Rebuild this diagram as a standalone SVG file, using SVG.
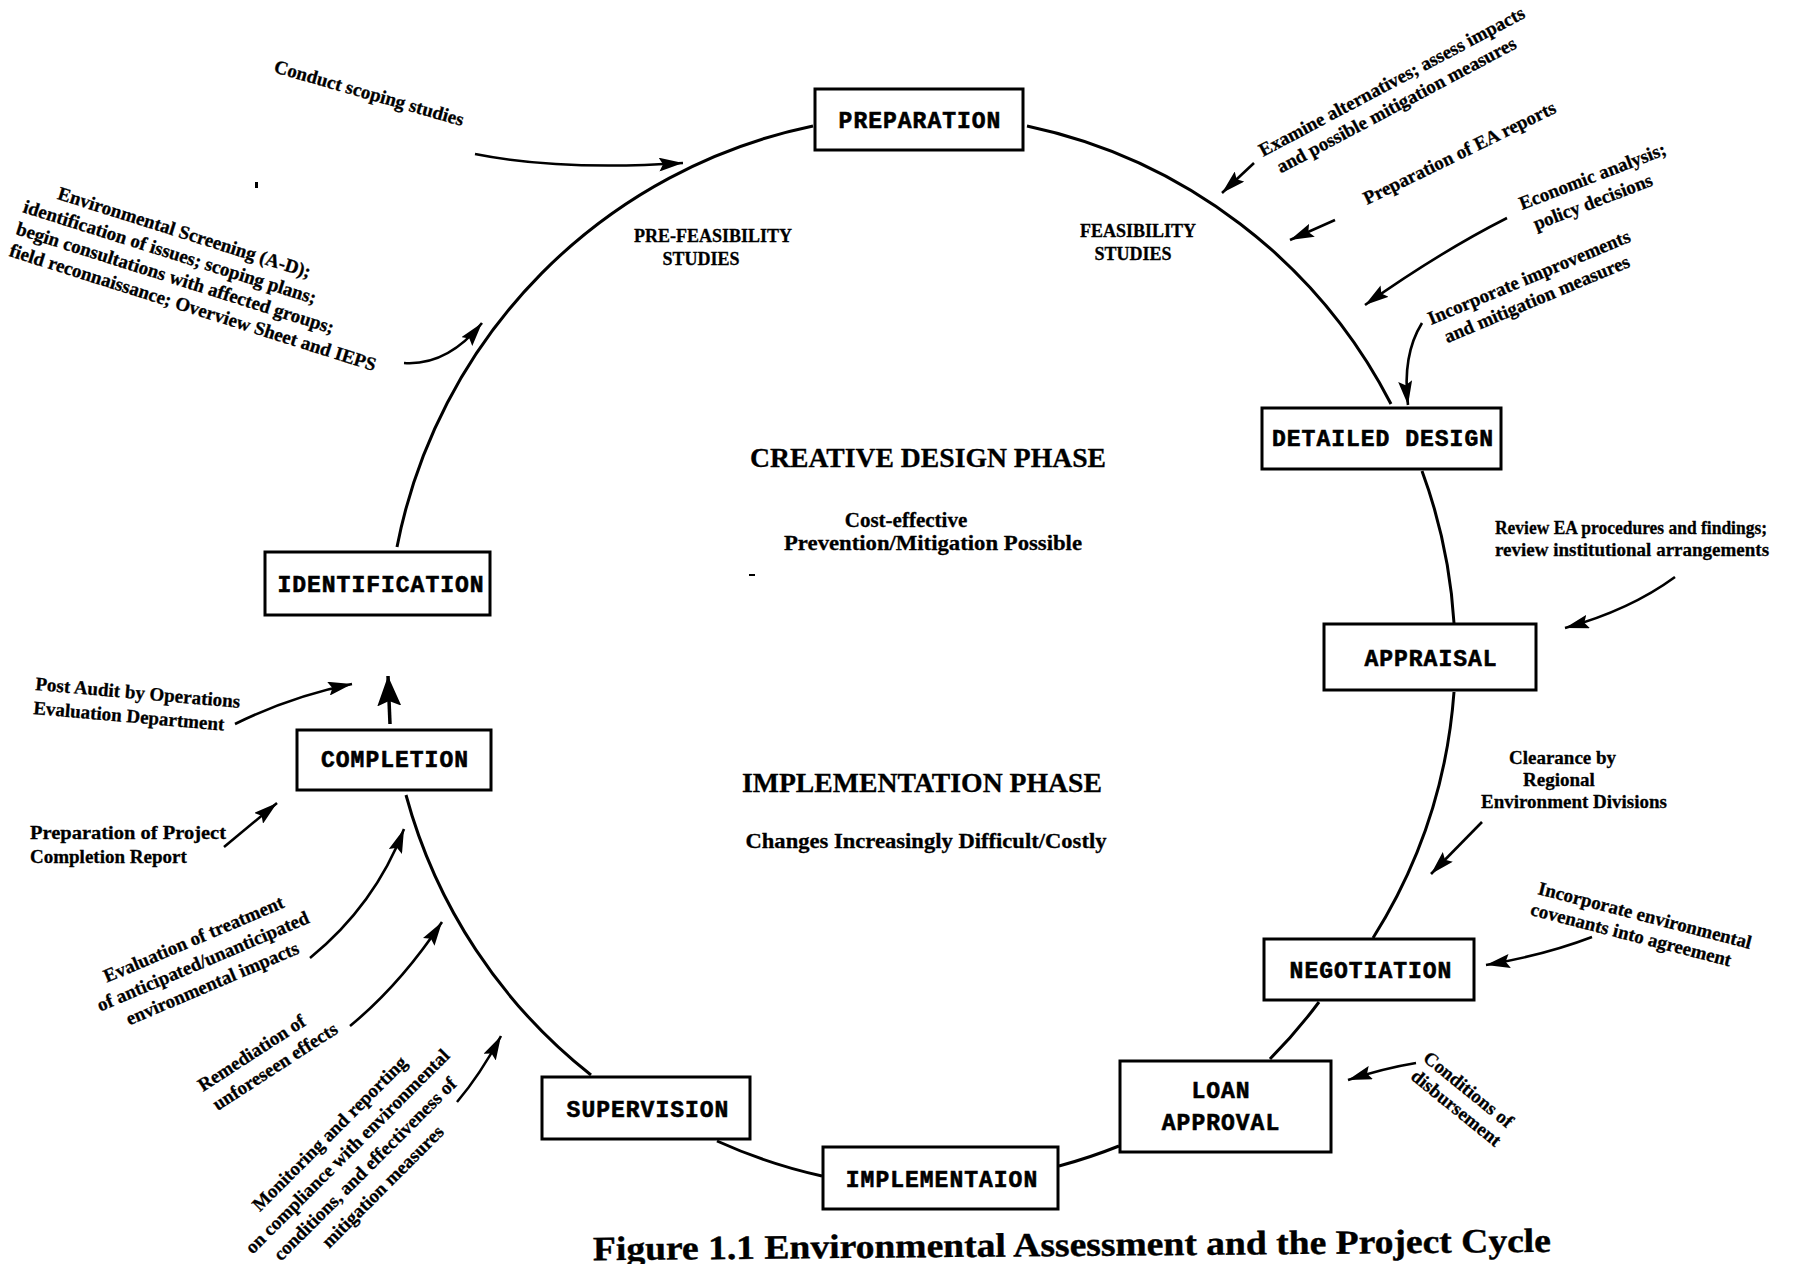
<svg xmlns="http://www.w3.org/2000/svg" width="1817" height="1264" viewBox="0 0 1817 1264">
<defs>
<style>
.bg{fill:#fff}
.box{fill:#fff;stroke:#000;stroke-width:3}
.nl{font-family:"Liberation Mono","Courier New",monospace;font-weight:bold;font-size:23px;letter-spacing:1px;text-anchor:middle;fill:#000;stroke:#000;stroke-width:0.6}
.an{font-family:"Liberation Serif","Times New Roman",serif;font-weight:bold;font-size:19px;fill:#000;stroke:#000;stroke-width:0.3}
.ph{font-family:"Liberation Serif","Times New Roman",serif;font-weight:bold;font-size:27.5px;fill:#000;stroke:#000;stroke-width:0.3}
.sub{font-family:"Liberation Serif","Times New Roman",serif;font-weight:bold;font-size:21px;fill:#000;stroke:#000;stroke-width:0.3}
.st{font-family:"Liberation Serif","Times New Roman",serif;font-weight:bold;font-size:18px;fill:#000;stroke:#000;stroke-width:0.3}
.arc{fill:none;stroke:#000;stroke-width:3}
.ar{fill:none;stroke:#000;stroke-width:2.6;marker-end:url(#ah)}
</style>
<marker id="ah" markerWidth="26" markerHeight="14" refX="24" refY="7" orient="auto" markerUnits="userSpaceOnUse"><path d="M0,0 L24,7 L0,14 L4,7 Z" fill="#000"/></marker>
<marker id="ahb" markerWidth="32" markerHeight="24" refX="30" refY="12" orient="auto" markerUnits="userSpaceOnUse"><path d="M0,0 L30,12 L0,24 L5,12 Z" fill="#000"/></marker>
</defs>
<rect class="bg" x="0" y="0" width="1817" height="1264"/>

<g id="cycle-connectors">
<path class="arc" d="M 397 547 A 534 534 0 0 1 813 126"/>
<path class="arc" d="M 1027 126 A 534 534 0 0 1 1391 404"/>
<path class="arc" d="M 1422 471 A 534 534 0 0 1 1454 623"/>
<path class="arc" d="M 1454 692 A 534 534 0 0 1 1373 938"/>
<path class="arc" d="M 1319 1002 A 534 534 0 0 1 1270 1059"/>
<path class="arc" d="M 1119 1146 A 534 534 0 0 1 1059 1166"/>
<path class="arc" d="M 822 1176 A 534 534 0 0 1 717 1141"/>
<path class="arc" d="M 591 1075 A 534 534 0 0 1 406 795"/>
</g>

<g id="nodes">
<g id="node-preparation"><rect class="box" x="815" y="89" width="208" height="61"/><text class="nl" x="920" y="128">PREPARATION</text></g>
<g id="node-detailed-design"><rect class="box" x="1262" y="408" width="239" height="61"/><text class="nl" x="1383" y="446">DETAILED DESIGN</text></g>
<g id="node-appraisal"><rect class="box" x="1324" y="624" width="212" height="66"/><text class="nl" x="1431" y="666">APPRAISAL</text></g>
<g id="node-negotiation"><rect class="box" x="1264" y="939" width="210" height="61"/><text class="nl" x="1371" y="978">NEGOTIATION</text></g>
<g id="node-loan-approval"><rect class="box" x="1120" y="1061" width="211" height="91"/><text class="nl" x="1221" y="1098">LOAN</text><text class="nl" x="1221" y="1130">APPROVAL</text></g>
<g id="node-implementation"><rect class="box" x="823" y="1147" width="235" height="62"/><text class="nl" x="942" y="1187">IMPLEMENTAION</text></g>
<g id="node-supervision"><rect class="box" x="542" y="1077" width="208" height="62"/><text class="nl" x="648" y="1117">SUPERVISION</text></g>
<g id="node-completion"><rect class="box" x="297" y="730" width="194" height="60"/><text class="nl" x="395" y="767">COMPLETION</text></g>
<g id="node-identification"><rect class="box" x="265" y="552" width="225" height="63"/><text class="nl" x="381" y="592">IDENTIFICATION</text></g>
</g>

<g id="phase-labels">
<text class="st" x="713" y="242" text-anchor="middle">PRE-FEASIBILITY</text>
<text class="st" x="701" y="265" text-anchor="middle">STUDIES</text>
<text class="st" x="1138" y="237" text-anchor="middle">FEASIBILITY</text>
<text class="st" x="1133" y="260" text-anchor="middle">STUDIES</text>
<text class="ph" x="928" y="467" text-anchor="middle" textLength="356" lengthAdjust="spacingAndGlyphs">CREATIVE DESIGN PHASE</text>
<text class="sub" x="906" y="527" text-anchor="middle">Cost-effective</text>
<text class="sub" x="933" y="550" text-anchor="middle" textLength="298" lengthAdjust="spacingAndGlyphs">Prevention/Mitigation  Possible</text>
<text class="ph" x="922" y="792" text-anchor="middle" textLength="360" lengthAdjust="spacingAndGlyphs">IMPLEMENTATION PHASE</text>
<text class="sub" x="926" y="848" text-anchor="middle" textLength="361" lengthAdjust="spacingAndGlyphs">Changes Increasingly Difficult/Costly</text>
</g>

<g id="annotation-arrows">
<path class="ar" d="M 475 154 Q 560 171 683 163"/>
<path class="ar" d="M 404 363 Q 447 366 482 323"/>
<path class="ar" d="M 1254 163 L 1222 193"/>
<path class="ar" d="M 1335 220 L 1290 240"/>
<path class="ar" d="M 1507 218 Q 1440 252 1365 305"/>
<path class="ar" d="M 1422 323 Q 1402 355 1408 405"/>
<path class="ar" d="M 1675 577 Q 1630 610 1565 628"/>
<path class="ar" d="M 1482 822 L 1431 874"/>
<path class="ar" d="M 1592 937 Q 1545 955 1486 965"/>
<path class="ar" d="M 1416 1063 Q 1385 1068 1348 1080"/>
<path class="ar" d="M 235 724 Q 292 696 352 684"/>
<path fill="none" stroke="#000" stroke-width="3.5" marker-end="url(#ahb)" d="M 390 724 L 388 676"/>
<path class="ar" d="M 224 847 L 277 803"/>
<path class="ar" d="M 310 958 Q 375 905 404 829"/>
<path class="ar" d="M 350 1026 Q 400 985 442 922"/>
<path class="ar" d="M 457 1102 Q 480 1075 501 1036"/>
</g>

<g id="annotations">
<text class="an" transform="translate(273,72) rotate(16)">Conduct scoping studies</text>
<g transform="translate(22,212) rotate(17.5)">
<text class="an" x="29" y="-23">Environmental Screening (A-D);</text>
<text class="an" x="0" y="0">identification of issues; scoping plans;</text>
<text class="an" x="0" y="23">begin consultations with affected groups;</text>
<text class="an" x="0" y="46">field reconnaissance; Overview Sheet and IEPS</text>
</g>
<g transform="translate(1263,157) rotate(-28)">
<text class="an" x="0" y="0">Examine alternatives; assess impacts</text>
<text class="an" x="8" y="23">and possible mitigation measures</text>
</g>
<text class="an" transform="translate(1367,205) rotate(-26)">Preparation of EA reports</text>
<g transform="translate(1522,210) rotate(-21)">
<text class="an" x="0" y="0">Economic analysis;</text>
<text class="an" x="6" y="24">policy decisions</text>
</g>
<g transform="translate(1431,325) rotate(-22.7)">
<text class="an" x="0" y="0">Incorporate improvements</text>
<text class="an" x="8" y="23">and mitigation measures</text>
</g>
<text class="an" x="1495" y="534" textLength="272" lengthAdjust="spacingAndGlyphs">Review EA procedures and findings;</text>
<text class="an" x="1495" y="556">review institutional arrangements</text>
<text class="an" x="1509" y="764">Clearance by</text>
<text class="an" x="1523" y="786">Regional</text>
<text class="an" x="1481" y="808">Environment Divisions</text>
<g transform="translate(1537,894) rotate(14.5)">
<text class="an" x="0" y="0">Incorporate environmental</text>
<text class="an" x="-2" y="22">covenants into agreement</text>
</g>
<g transform="translate(1422,1060) rotate(39)">
<text class="an" x="0" y="0">Conditions of</text>
<text class="an" x="2" y="22">disbursement</text>
</g>
<g transform="translate(35,690) rotate(5)">
<text class="an" x="0" y="0">Post Audit by Operations</text>
<text class="an" x="0" y="24">Evaluation Department</text>
</g>
<text class="an" x="30" y="839" textLength="196" lengthAdjust="spacingAndGlyphs">Preparation of Project</text>
<text class="an" x="30" y="863">Completion Report</text>
<g transform="translate(196,945) rotate(-23)">
<text class="an" x="0" y="0" text-anchor="middle">Evaluation of treatment</text>
<text class="an" x="0" y="24" text-anchor="middle">of anticipated/unanticipated</text>
<text class="an" x="0" y="48" text-anchor="middle">environmental impacts</text>
</g>
<g transform="translate(203,1092) rotate(-33)">
<text class="an" x="0" y="0">Remediation of</text>
<text class="an" x="2" y="24">unforeseen effects</text>
</g>
<g transform="translate(334,1138) rotate(-45)">
<text class="an" x="0" y="0" text-anchor="middle">Monitoring and reporting</text>
<text class="an" x="0" y="25" text-anchor="middle">on compliance with environmental</text>
<text class="an" x="0" y="50" text-anchor="middle">conditions, and effectiveness of</text>
<text class="an" x="0" y="75" text-anchor="middle">mitigation measures</text>
</g>
</g>

<g id="caption">
<text transform="rotate(-0.5 1072 1256)" x="593" y="1256" textLength="958" lengthAdjust="spacingAndGlyphs" font-family="Liberation Serif, Times New Roman, serif" font-weight="bold" font-size="34" stroke="#000" stroke-width="0.4">Figure 1.1   Environmental Assessment and the Project Cycle</text>
</g>

<g id="specks" fill="#000">
<rect x="255" y="182" width="3" height="6"/>
<rect x="749" y="574" width="6" height="2"/>
</g>
</svg>
